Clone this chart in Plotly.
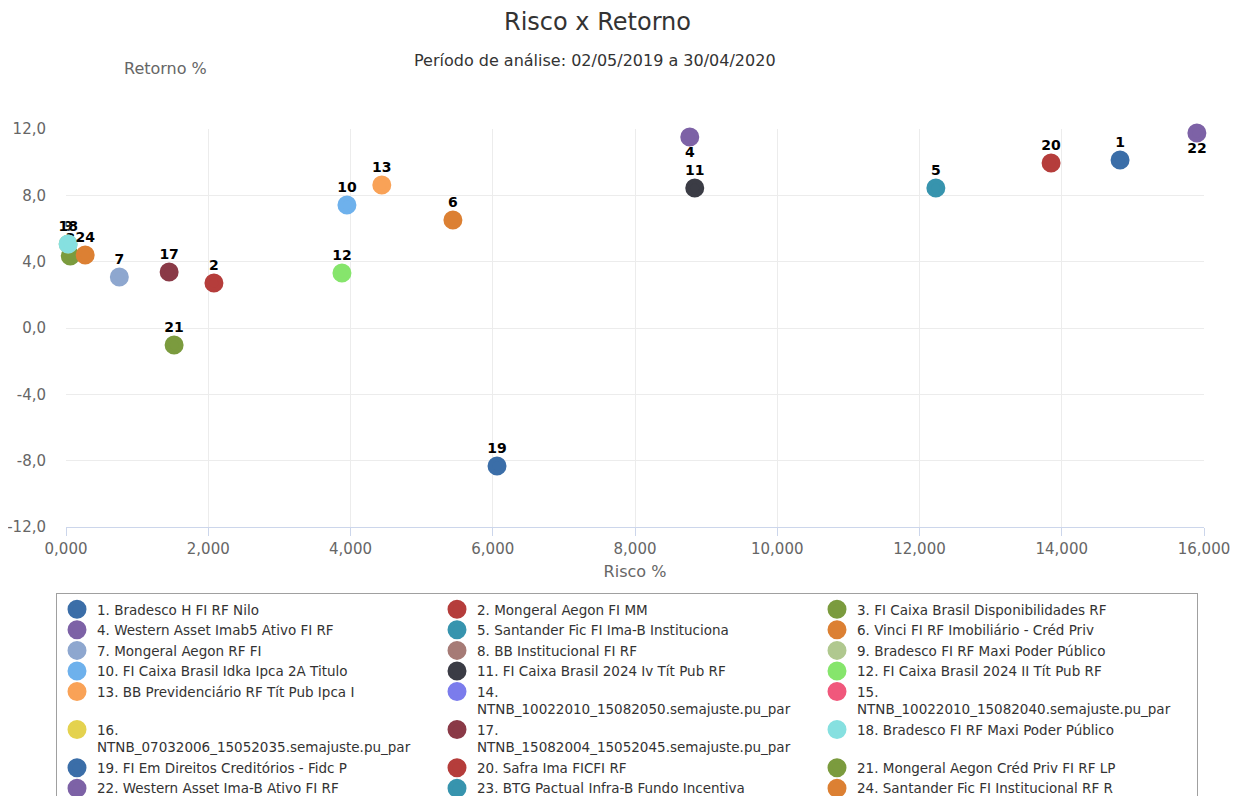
import plotly.graph_objects as go

numbers = list(range(1, 25))
names = [
    "Bradesco H FI RF Nilo",
    "Mongeral Aegon FI MM",
    "FI Caixa Brasil Disponibilidades RF",
    "Western Asset Imab5 Ativo FI RF",
    "Santander Fic FI Ima-B Instituciona",
    "Vinci FI RF Imobiliário - Créd Priv",
    "Mongeral Aegon RF FI",
    "BB Institucional FI RF",
    "Bradesco FI RF Maxi Poder Público",
    "FI Caixa Brasil Idka Ipca 2A Titulo",
    "FI Caixa Brasil 2024 Iv Tít Pub RF",
    "FI Caixa Brasil 2024 II Tít Pub RF",
    "BB Previdenciário RF Tít Pub Ipca I",
    "<br>NTNB_10022010_15082050.semajuste.pu_par",
    "<br>NTNB_10022010_15082040.semajuste.pu_par",
    "<br>NTNB_07032006_15052035.semajuste.pu_par",
    "<br>NTNB_15082004_15052045.semajuste.pu_par",
    "Bradesco FI RF Maxi Poder Público",
    "FI Em Direitos Creditórios - Fidc P",
    "Safra Ima FICFI RF",
    "Mongeral Aegon Créd Priv FI RF LP",
    "Western Asset Ima-B Ativo FI RF",
    "BTG Pactual Infra-B Fundo Incentiva",
    "Santander Fic FI Institucional RF R",
]
risco = [14.82, 2.08, 0.06, 8.77, 12.23, 5.44, 0.75, None, 0.03, 3.95, 8.84, 3.88,
         4.44, None, None, None, 1.45, 0.03, 6.06, 13.85, 1.52, 15.90, None, 0.27]
retorno = [10.13, 2.71, 4.34, 11.52, 8.44, 6.51, 3.08, None, 5.07, 7.42, 8.44, 3.32,
           8.62, None, None, None, 3.38, 5.07, -8.32, 9.95, -1.03, 11.76, None, 4.40]
label_pos = ["top center"] * 24
label_pos[3] = "bottom center"
label_pos[21] = "bottom center"
colors = [
    "#3b6ea8", "#b53d3b", "#7b9b3e", "#7d62a6", "#3794ae", "#dc8033",
    "#8ea7cf", "#a67b76", "#b0c88f", "#6eb1ec", "#3b3c45", "#86e56c",
    "#f9a257", "#7b7cec", "#f0587c", "#e4d24f", "#8a3a47", "#86e0e0",
    "#3b6ea8", "#b53d3b", "#7b9b3e", "#7d62a6", "#3794ae", "#dc8033",
]
x_ticks = [0, 2, 4, 6, 8, 10, 12, 14, 16]
x_tick_labels = ["0,000", "2,000", "4,000", "6,000", "8,000", "10,000", "12,000", "14,000", "16,000"]
y_ticks = [-12, -8, -4, 0, 4, 8, 12]
y_tick_labels = ["-12,0", "-8,0", "-4,0", "0,0", "4,0", "8,0", "12,0"]

# page body has an 8px margin: figure pixel = window pixel - 8
OFF = 8
W, H = 1252 - OFF, 796
L, R, T, B = 66 - OFF, 1204 - OFF, 129 - OFF, 527 - OFF
PW, PH = R - L, B - T


def px(xw):
    return (xw - OFF - L) / PW


def py(yw):
    return (B - (yw - OFF)) / PH


fig = go.Figure()
for i in range(24):
    fig.add_trace(go.Scatter(
        x=[risco[i]], y=[retorno[i]],
        mode="markers+text",
        name=f"{numbers[i]}. {names[i]}".replace(". <br>", ".<br>"),
        text=[str(numbers[i])],
        textposition=label_pos[i],
        textfont=dict(family="DejaVu Sans", size=14, color="#000000", weight="bold", shadow="1px 1px 2px white"),
        marker=dict(size=14, color=colors[i], line=dict(width=5, color=colors[i])),
        cliponaxis=False,
        hovertemplate="%{x:.3f}, %{y:.2f}<extra></extra>",
    ))

fig.update_layout(
    width=W, height=H,
    margin=dict(l=L, r=W - R, t=T, b=H - B, autoexpand=False),
    paper_bgcolor="white", plot_bgcolor="white",
    font=dict(family="DejaVu Sans", color="#666666"),
    showlegend=True,
    legend=dict(
        orientation="h", x=px(56), xanchor="left", y=py(593), yanchor="top",
        entrywidth=335, entrywidthmode="pixels",
        font=dict(family="DejaVu Sans", size=13.5, color="#333333"),
        bordercolor="#a0a0a0", borderwidth=1, bgcolor="white",
        valign="top", itemsizing="trace", tracegroupgap=0,
    ),
    xaxis=dict(
        range=[0, 16], tickvals=x_ticks, ticktext=x_tick_labels,
        showgrid=True, gridcolor="#ececec", gridwidth=1,
        zeroline=False, showline=True, linecolor="#ccd6eb", linewidth=1,
        ticks="outside", ticklen=8, tickcolor="#ccd6eb",
        tickfont=dict(size=15, color="#666666"), automargin=False,
        title=dict(text="Risco %", font=dict(size=16, color="#666666"), standoff=8),
    ),
    yaxis=dict(
        range=[-12, 12], tickvals=y_ticks, ticktext=y_tick_labels,
        showgrid=True, gridcolor="#ececec", gridwidth=1,
        zeroline=False, showline=False, automargin=False,
        tickfont=dict(size=15, color="#666666"), ticklabelstandoff=19,
    ),
    annotations=[
        dict(text="Risco x Retorno", xref="paper", yref="paper",
             x=px(597), y=py(22), xanchor="center", yanchor="middle",
             showarrow=False, font=dict(size=24, color="#333333")),
        dict(text="Período de análise: 02/05/2019 a 30/04/2020", xref="paper", yref="paper",
             x=px(595), y=py(61), xanchor="center", yanchor="middle",
             showarrow=False, font=dict(size=16, color="#333333")),
        dict(text="Retorno %", xref="paper", yref="paper",
             x=px(165), y=py(68), xanchor="center", yanchor="middle",
             showarrow=False, font=dict(size=16, color="#666666")),
    ],
)

fig.write_html("out.html")
